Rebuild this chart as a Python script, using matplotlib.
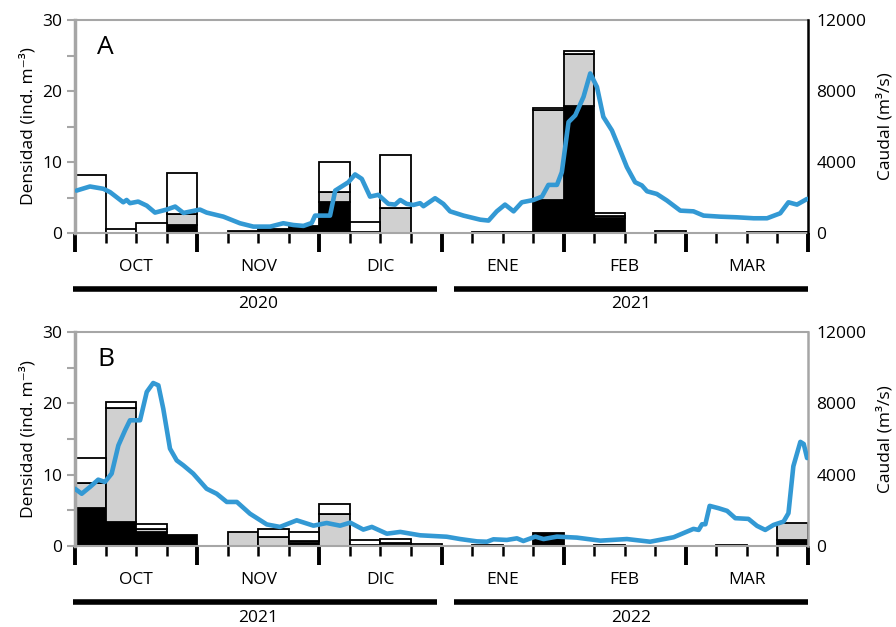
import matplotlib
matplotlib.use('Agg')
import matplotlib.pyplot as plt
import numpy as np

plt.rcParams['font.family'] = ['Open Sans', 'DejaVu Sans']

# datos semanales (24 semanas, oct-mar)
months = ['OCT', 'NOV', 'DIC', 'ENE', 'FEB', 'MAR']
years_a = ['2020', '2021']
years_b = ['2021', '2022']

a_black = [0, 0, 0, 1.1, 0, 0.3, 0.6, 1.0, 4.4, 0.1, 0, 0, 0, 0.1, 0.1, 4.7, 17.9, 2.1, 0, 0, 0, 0, 0.1, 0.1]
a_gray = [0, 0, 0, 1.6, 0, 0, 0, 0, 1.4, 0, 3.5, 0, 0, 0, 0, 12.6, 7.3, 0.35, 0, 0, 0, 0, 0, 0]
a_white = [8.1, 0.5, 1.4, 5.7, 0, 0, 0, 0, 4.2, 1.4, 7.5, 0, 0, 0, 0, 0.3, 0.4, 0.4, 0, 0.25, 0, 0, 0, 0.1]

b_black = [5.3, 3.3, 1.9, 1.5, 0, 0, 0, 0.4, 0, 0.2, 0.2, 0, 0, 0, 0, 1.8, 0, 0, 0, 0, 0, 0, 0, 0.9]
b_gray = [3.5, 16.1, 0.55, 0, 0, 1.9, 1.3, 0.3, 4.45, 0, 0.2, 0, 0, 0, 0, 0, 0, 0, 0, 0, 0, 0, 0, 2.3]
b_white = [3.6, 0.8, 0.6, 0, 0, 0, 1.1, 1.2, 1.5, 0.7, 0.6, 0.3, 0, 0.15, 0, 0, 0, 0.1, 0, 0, 0, 0.1, 0, 0]

# caudal (m3/s), posicion en semanas
a_flow_week = [0.05, 0.49, 0.93, 1.15, 1.58, 1.69, 1.80, 2.07, 2.35, 2.62, 3.00, 3.28, 3.55, 4.09, 4.31,
               4.86, 5.40, 5.84, 6.39, 6.82, 7.15, 7.48, 7.75, 7.86, 8.35, 8.52, 8.73, 8.95, 9.17, 9.39,
               9.66, 9.93, 10.26, 10.48, 10.65, 10.86, 11.08, 11.30, 11.41, 11.79, 12.06, 12.28, 12.72,
               13.27, 13.54, 13.81, 14.08, 14.36, 14.63, 15.01, 15.29, 15.50, 15.78, 15.94, 16.16, 16.38,
               16.65, 16.87, 17.09, 17.30, 17.58, 17.85, 18.07, 18.34, 18.56, 18.73, 19.05, 19.38, 19.82,
               20.25, 20.58, 21.13, 21.67, 22.22, 22.66, 23.09, 23.36, 23.64, 23.97]
a_flow = [2390, 2620, 2490, 2300, 1730, 1860, 1680, 1770, 1540, 1150, 1320, 1490, 1130, 1320, 1150,
          920, 550, 360, 360, 550, 450, 400, 565, 980, 980, 2390, 2620, 2860, 3300, 3050,
          2050, 2150, 1640, 1600, 1860, 1640, 1580, 1680, 1510, 1960, 1640, 1220, 980,
          750, 700, 1220, 1600, 1220, 1730, 1860, 2050, 2710, 2710, 3430, 6250, 6630,
          7670, 8990, 8230, 6540, 5780, 4650, 3710, 2860, 2680, 2350, 2200, 1830, 1260,
          1220, 980, 920, 885, 830, 830, 1110, 1730, 1600, 1920]

b_flow_week = [0.0, 0.22, 0.49, 0.76, 0.98, 1.20, 1.42, 1.64, 1.80, 2.13, 2.35, 2.56, 2.73, 2.89, 3.11,
               3.33, 3.55, 3.87, 4.31, 4.64, 4.97, 5.30, 5.73, 6.28, 6.71, 7.26, 7.81, 8.24, 8.68, 9.01,
               9.44, 9.72, 10.21, 10.65, 11.30, 12.17, 12.61, 13.16, 13.49, 13.70, 14.14, 14.47, 14.68,
               15.07, 15.34, 15.78, 16.43, 17.20, 18.07, 18.83, 19.60, 20.25, 20.42, 20.53, 20.64, 20.78,
               21.07, 21.35, 21.62, 22.05, 22.33, 22.60, 22.87, 23.20, 23.36, 23.52, 23.75, 23.86, 23.97]
b_flow = [3210, 2930, 3310, 3720, 3590, 4060, 5640, 6490, 7050, 7050, 8640, 9140, 9010, 7700, 5460,
          4800, 4520, 4060, 3210, 2930, 2470, 2470, 1810, 1210, 1070, 1440, 1140, 1290, 1140, 1310,
          920, 1070, 690, 790, 600, 520, 390, 260, 240, 375, 340, 430, 280,
          525, 390, 525, 470, 300, 390, 240, 490, 960, 900, 1220, 1220, 2250,
          2120, 1970, 1560, 1520, 1130, 900, 1180, 1370, 1840, 4470, 5840, 5720, 4930]

GRAY_AX = '#a6a6a6'
BLUE = '#3399d4'
FS = 12.5


def panel(rect, letter, black, gray, white, fweek, flow, years, right_col):
    ax = fig.add_axes(rect)
    x = np.arange(24) + 0.5
    black = np.array(black)
    gray = np.array(gray)
    white = np.array(white)
    for vals, bot, col in [(black, 0, 'black'), (gray, black, '#d0d0d0'), (white, black + gray, 'white')]:
        lw = [1.3 if v > 0 else 0 for v in vals]
        ax.bar(x, vals, width=1.0, bottom=bot, color=col, edgecolor='black', linewidth=lw, zorder=2)

    ax.set_xlim(0, 24)
    ax.set_ylim(0, 30)
    ax.set_yticks([0, 10, 20, 30])
    ax.set_yticks([5, 15, 25], minor=True)
    ax.tick_params(axis='y', which='both', color=GRAY_AX, length=6, width=1.5, labelsize=FS, pad=3)
    ax.set_xticks(np.arange(0, 25, 4))
    ax.set_xticks(np.arange(25), minor=True)
    ax.set_xticklabels([])
    ax.tick_params(axis='x', which='major', length=14, width=2.8, color='black')
    ax.tick_params(axis='x', which='minor', length=7, width=1.8, color='black')
    for s in ['left', 'top', 'bottom']:
        ax.spines[s].set_color(GRAY_AX)
    ax.spines['left'].set_linewidth(2.5)
    ax.spines['top'].set_linewidth(1.5)
    ax.spines['bottom'].set_linewidth(1.5)
    ax.spines['right'].set_visible(False)
    ax.set_ylabel('Densidad (ind. m⁻³)', fontsize=FS, labelpad=4)
    ax.text(0.03, 0.87, letter, transform=ax.transAxes, fontsize=19, va='center', ha='left')

    ax2 = ax.twinx()
    ax2.plot(fweek, flow, color=BLUE, linewidth=3.3, solid_joinstyle='round',
             solid_capstyle='round', zorder=3)
    ax2.set_ylim(0, 12000)
    ax2.set_yticks([0, 4000, 8000, 12000])
    ax2.tick_params(axis='y', length=0, labelsize=FS, pad=6)
    for s in ['left', 'top', 'bottom']:
        ax2.spines[s].set_visible(False)
    ax2.spines['right'].set_color(right_col)
    ax2.spines['right'].set_linewidth(1.8)
    ax2.set_ylabel('Caudal (m³/s)', fontsize=FS, labelpad=8)

    tr = ax.get_xaxis_transform()
    for i, m in enumerate(months):
        ax.text(i * 4 + 2, -0.16, m, transform=tr, ha='center', va='center', fontsize=FS)
    ax.plot([-0.07, 11.86], [-0.263, -0.263], transform=tr, color='black', lw=4,
            solid_capstyle='butt', clip_on=False)
    ax.plot([12.41, 24.0], [-0.263, -0.263], transform=tr, color='black', lw=4,
            solid_capstyle='butt', clip_on=False)
    ax.text(6, -0.335, years[0], transform=tr, ha='center', va='center', fontsize=FS)
    ax.text(18.2, -0.335, years[1], transform=tr, ha='center', va='center', fontsize=FS)
    return ax


fig = plt.figure(figsize=(8.96, 6.27), dpi=100)
panel([75 / 896, 1 - 233 / 627, 733 / 896, 213 / 627], 'A', a_black, a_gray, a_white,
      a_flow_week, a_flow, years_a, 'black')
panel([75 / 896, 1 - 546 / 627, 733 / 896, 214 / 627], 'B', b_black, b_gray, b_white,
      b_flow_week, b_flow, years_b, GRAY_AX)

fig.savefig('out.png', dpi=100)
